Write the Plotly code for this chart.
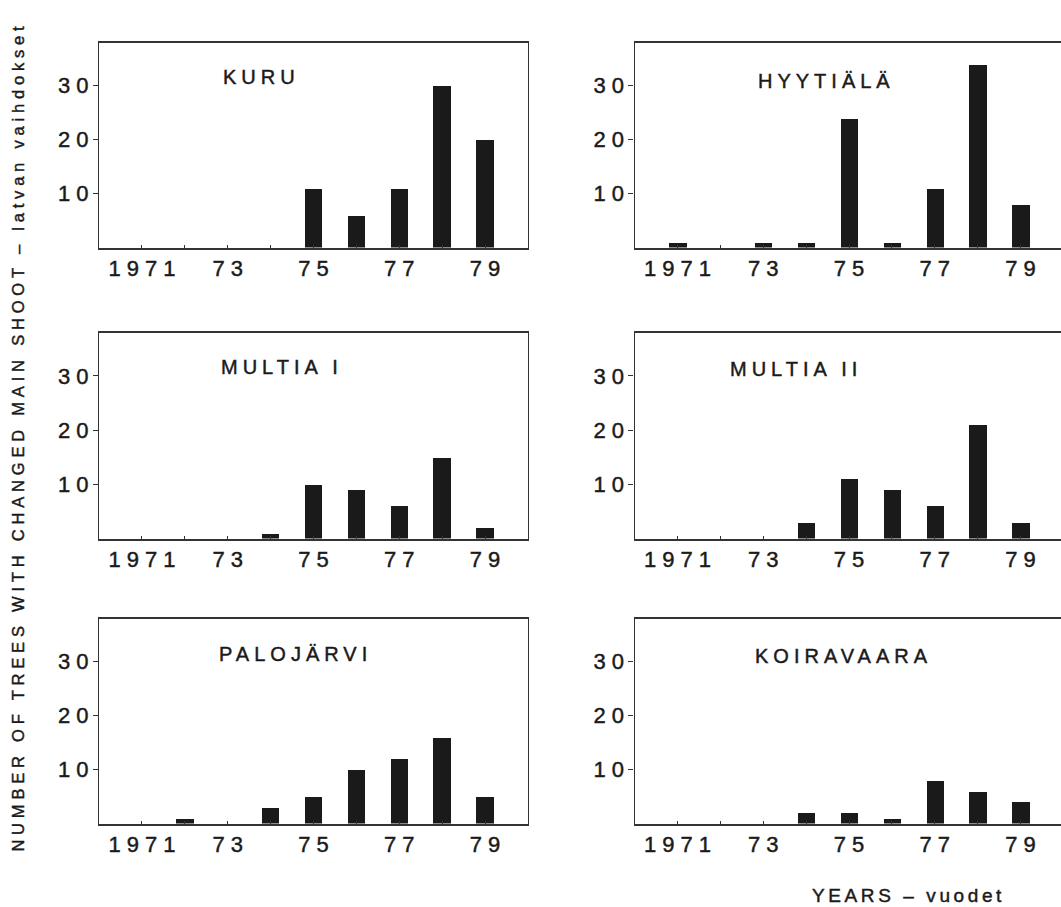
import plotly.graph_objects as go

# Years shown on every panel; only odd years carry a label
years = [1971, 1972, 1973, 1974, 1975, 1976, 1977, 1978, 1979]
year_labels = ["1971", "", "73", "", "75", "", "77", "", "79"]

# Number of trees with a changed main shoot, per site and year
sites = ["KURU", "HYYTIÄLÄ", "MULTIA I", "MULTIA II", "PALOJÄRVI", "KOIRAVAARA"]
kuru = [0, 0, 0, 0, 11, 6, 11, 30, 20]
hyytiala = [1, 0, 1, 1, 24, 1, 11, 34, 8]
multia_1 = [0, 0, 0, 1, 10, 9, 6, 15, 2]
multia_2 = [0, 0, 0, 3, 11, 9, 6, 21, 3]
palojarvi = [0, 1, 0, 3, 5, 10, 12, 16, 5]
koiravaara = [0, 0, 0, 2, 2, 1, 8, 6, 4]
site_values = [kuru, hyytiala, multia_1, multia_2, palojarvi, koiravaara]

y_ticks = [10, 20, 30]
y_title = "NUMBER OF TREES WITH CHANGED MAIN SHOOT – latvan vaihdokset"
x_title = "YEARS – vuodet"

# ---- page geometry (pixels) ----
W, H = 1061, 907
col_px = [(99, 528), (634.5, 1061)]
row_px = [(42.5, 247.5), (332.5, 538.5), (618.5, 823.5)]
year_px = (528 - 99) / 10.0
x_ranges = [[1970, 1980], [1970, 1970 + (col_px[1][1] - col_px[1][0]) / year_px]]
# left edge / vertical centre of each panel name
title_pos = [(221, 77), (756, 81), (219, 367), (728, 369), (217, 654), (753, 656)]

FONT = "Liberation Sans, Arial, Helvetica, sans-serif"
INK = "#1a1a1a"
LINE = "#333333"

fig = go.Figure()
layout = dict(
    width=W, height=H,
    margin=dict(l=0, r=0, t=0, b=0),
    paper_bgcolor="white", plot_bgcolor="white",
    showlegend=False,
    font=dict(family=FONT, color=INK),
    bargap=0,
)

annotations = []
for i, (name, vals) in enumerate(zip(sites, site_values)):
    r, c = divmod(i, 2)
    n = i + 1
    xa = "x" if n == 1 else f"x{n}"
    ya = "y" if n == 1 else f"y{n}"
    fig.add_trace(go.Bar(
        x=years, y=vals, width=0.41,
        marker=dict(color=INK, line=dict(width=0)),
        xaxis=xa, yaxis=ya, hoverinfo="x+y",
    ))
    x0, x1 = col_px[c]
    top, bot = row_px[r]
    layout["xaxis" if n == 1 else f"xaxis{n}"] = dict(
        domain=[x0 / W, x1 / W], range=x_ranges[c], anchor=ya,
        tickvals=years, ticktext=year_labels,
        ticks="inside", ticklen=3, tickwidth=1, tickcolor=LINE,
        ticklabelstandoff=0,
        showline=True, linecolor=LINE, linewidth=1.7, mirror=True,
        showgrid=False, zeroline=False,
        tickfont=dict(size=22, family=FONT, color=INK),
    )
    layout["yaxis" if n == 1 else f"yaxis{n}"] = dict(
        domain=[1 - bot / H, 1 - top / H], range=[0, 38], anchor=xa,
        tickvals=y_ticks, ticks="outside", ticklen=5, tickwidth=1.2, tickcolor=LINE,
        showline=True, linecolor=LINE, linewidth=1.4, mirror=(c == 0),
        showgrid=False, zeroline=False,
        tickfont=dict(size=22, family=FONT, color=INK),
    )
    tx, ty = title_pos[i]
    annotations.append(dict(
        text=name, xref="paper", yref="paper",
        x=tx / W, y=1 - ty / H, xanchor="left", yanchor="middle", align="left",
        showarrow=False, font=dict(size=20, family=FONT, color=INK),
    ))

annotations.append(dict(
    text=y_title, xref="paper", yref="paper", x=18 / W, y=1 - 437 / H,
    xanchor="center", yanchor="middle", textangle=-90, showarrow=False,
    font=dict(size=16.5, family=FONT, color=INK),
))
annotations.append(dict(
    text=x_title, xref="paper", yref="paper", x=810 / W, y=1 - 895 / H,
    xanchor="left", yanchor="middle", align="left", showarrow=False,
    font=dict(size=19, family=FONT, color=INK),
))
layout["annotations"] = annotations
fig.update_layout(**layout)

# Wide, slightly heavy lettering of the typeset labels
spacing = [5.0] * len(sites) + [4.8, 3.6]
post = """
var gd = document.querySelector('.plotly-graph-div');
var tickGap = 6;
function heavy(t){ t.style.stroke = '#1a1a1a'; t.style.strokeWidth = '0.45px'; }
gd.querySelectorAll('g.xaxislayer-above text').forEach(function(t){
  t.style.letterSpacing = tickGap + 'px'; t.setAttribute('dx', tickGap / 2); heavy(t);
});
gd.querySelectorAll('g.yaxislayer-above text').forEach(function(t){
  t.style.letterSpacing = tickGap + 'px'; t.setAttribute('dx', tickGap); heavy(t);
});
var gaps = %s;
gd.querySelectorAll('g.annotation').forEach(function(g){
  var i = parseInt(g.getAttribute('data-index'));
  var t = g.querySelector('text');
  if (t && !isNaN(i)) { t.style.letterSpacing = gaps[i] + 'px'; heavy(t); }
});
""" % str(spacing)

fig.write_html("out.html", post_script=post, config={"displayModeBar": False})
